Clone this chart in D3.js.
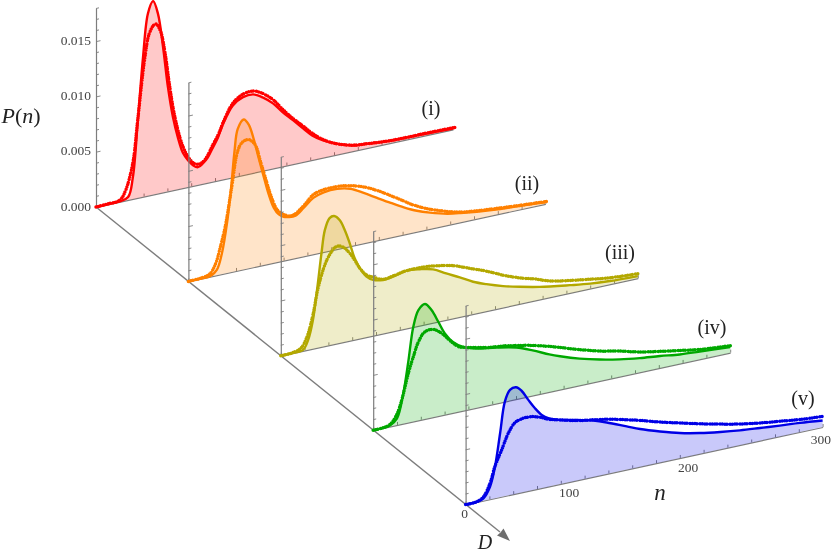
<!DOCTYPE html>
<html><head><meta charset="utf-8">
<script src="https://cdn.jsdelivr.net/npm/d3@7"></script>
<style>html,body{margin:0;padding:0;background:#fff}svg{display:block;filter:blur(0.3px)}text{font-family:"Liberation Serif",serif}</style>
</head><body><svg id="c" width="831" height="557"></svg>
<script>
// P(n) values are in units of 10^-3
const names=["(i)","(ii)","(iii)","(iv)","(v)"];
const colors=["#ff0000","#ff8000","#b3a800","#00a800","#0000e6"];
const labelPos=[[431,110],[527,185],[620,254],[712,329],[803,400]];
const pTicks=[0,5,10,15];
const nTicks=[100,200,300];

const solidN1=[0,10,20,27,31,35,39.5,43.7,48,52,56.3,60.5,64.7,69,73,77.3,81.5,85.7,90,94,98.3,102.5,106.7,115,123.5,132,140,148.7,157,165.5,174,182,190.8,202.5,216,230,244.5,261,278,300];
const solidP1=[0,0.01,0.05,0.27,1.98,6.77,12.6,16.5,17.5,16.3,13.2,9.4,6.6,4.6,3.2,2.43,1.88,1.6,1.86,2.3,3.1,3.9,5.0,6.5,7.05,7.1,6.65,5.9,4.9,4.0,3.05,2.2,1.57,1.0,0.52,0.38,0.22,0.18,0.15,0.08];
const dotN1=[0,10,20,25,31,35,41,45,50,54,58,62,66,72,77,82,86,90,94,98,103,107,115,123,132,140,149,157,165,174,182,190,202,216,230,244,261,278,302];
const dotP1=[0,0.05,0.15,0.95,3.3,7,12.5,14.7,15.4,14.7,12.6,9.4,6.75,4.1,2.8,2.05,1.85,2.0,2.5,3.3,4.2,5.2,6.7,7.3,7.4,7.0,6.2,5.15,4.2,3.25,2.4,1.7,1.0,0.55,0.38,0.25,0.2,0.2,0.15];

const solidN2=[0,10,18.5,24,28.3,32.5,36,38.7,41.4,46.5,50.7,55,59,63.3,67.5,71.7,76,80,84.3,90,97,105,113.7,125,136,147.3,158.5,170,181,192,203,217.5,228.6,262,283,300];
const solidP2=[0,0.01,0.05,0.5,1.95,4.57,7.75,10.8,12.8,13.56,13.0,11.55,9.8,8.0,6.3,5.0,4.28,3.97,3.85,3.85,4.4,5.1,5.4,5.45,5.2,4.56,3.85,3.13,2.47,1.9,1.48,1.04,0.84,0.43,0.3,0.15];
const dotN2=[0,10,18,23,27,31,36,41.4,45,50.5,56,60.5,64.7,69,74.5,80,87,96,105,113.7,130,147.3,161,175,189,203,217.5,228.6,262,302];
const dotP2=[0,0.05,0.25,1.1,2.55,4.27,7.4,10.8,11.5,11.66,11.07,9.46,7.86,6.25,4.76,4.18,3.92,4.5,5.39,5.64,5.6,5.1,4.37,3.45,2.5,1.79,1.25,0.93,0.52,0.2];

const solidN3=[0,10,18.7,23,27,30.8,34.2,37,41,44.8,49.6,53.8,58,62,66.4,72,77.6,86,94.4,105.6,116.8,128,139,150.4,161.6,172.8,186.8,200.8,217.6,243,260,276.5,300];
const solidP3=[0,0.02,0.1,0.9,2.6,5.54,8.5,10.5,11.5,11.6,11.1,10.1,8.8,7.4,6.37,5.48,5.05,4.85,4.95,5.23,5.1,4.83,4.2,3.58,2.92,2.44,1.94,1.55,1.15,0.71,0.45,0.3,0.2];
const dotN3=[0,10,17,22,27,31.3,37,41,45.4,49.6,53.8,58,62,66.4,72,77.6,86,94.4,105.6,116.8,128,144.8,158.8,172.8,186.8,200.8,214.9,226,260,276,302];
const dotP3=[0,0.05,0.3,1.2,3.07,5.38,7.36,8.17,8.73,8.78,8.47,7.92,7.22,6.37,5.63,5.29,4.91,5.02,5.23,5.24,5.13,4.77,4.2,3.62,2.93,2.36,1.91,1.49,0.85,0.6,0.4];

const solidN4=[0,10,14,20,25.3,29.5,33.7,38,43.5,49,54.7,60.2,67,75.5,86.6,103.4,120.2,134,148,157,173.5,190.4,207,224,241,257.6,274.4,300];
const solidP4=[0,0.03,0.1,0.6,2.74,5.5,8.57,9.98,10.4,9.72,8.53,7.35,6.42,5.77,5.36,5.06,4.67,4.09,3.4,3.02,2.42,1.94,1.57,1.29,1.08,0.83,0.7,0.5];
const dotN4=[0,10,15,20,24,29.5,33.7,38,43.5,50.5,57.5,64.5,71.5,78.5,86.6,97.8,109,120,131.5,148,157,173.5,190.4,207,224,241,257.6,274.4,301];
const dotP4=[0,0.05,0.25,1.0,2.17,4.45,5.85,7.1,7.89,7.93,7.42,6.6,5.9,5.65,5.45,5.2,5.07,4.85,4.6,4.12,3.81,3.24,2.71,2.32,1.84,1.5,1.19,0.89,0.63];

const solidN5=[0,10,15,20.5,24.7,29,33,37.3,42.4,47,52.7,58.3,64,69.5,79.3,93.4,107.3,118.6,135.4,146.6,163.4,180,197,214,230.6,247.4,264,281,300];
const solidP5=[0,0.03,0.22,1.14,2.86,5.78,8.54,9.5,9.62,9.2,8.24,7.35,6.62,6.2,5.81,5.48,5.09,4.66,3.91,3.41,2.8,2.27,1.87,1.57,1.33,1.15,0.98,0.83,0.6];
const dotN5=[0,10,15,20.5,24.7,30.3,35.9,41.5,48.5,55.5,62.5,69.5,79.3,93.4,107.3,121,135.4,146.6,163.4,180,197,214,230.6,247.4,264,281,301];
const dotP5=[0,0.05,0.35,1.45,2.9,4.23,5.62,6.44,6.68,6.66,6.44,6.1,5.81,5.42,5.16,4.89,4.51,4.19,3.65,3.18,2.71,2.28,1.9,1.6,1.37,1.13,0.97];

const solidNs=[solidN1,solidN2,solidN3,solidN4,solidN5], solidPs=[solidP1,solidP2,solidP3,solidP4,solidP5];
const dotNs=[dotN1,dotN2,dotN3,dotN4,dotN5], dotPs=[dotP1,dotP2,dotP3,dotP4,dotP5];

const svg=d3.select("#c");
const gray="#7d7d7d";
const ox=d3.scaleLinear([0,4],[96,465.6]), oy=d3.scaleLinear([0,4],[207,504.6]);
const xN=d3.scaleLinear([0,300],[0,357]);
const skew=d3.scaleLinear([0,300],[0,-77.5]);
const yP=d3.scaleLinear([0,18],[0,-199]);
const fmt=v=>(v/1000).toFixed(3);

svg.append("line").attr("x1",ox(0)).attr("y1",oy(0)).attr("x2",500).attr("y2",532).attr("stroke",gray).attr("stroke-width",1.4);
svg.append("path").attr("d","M510,541 L497,535.5 L500.5,532.5 L503.5,528.5 Z").attr("fill","#6e6e6e");

const major=d3.range(0,19,5);
names.forEach((name,i)=>{
  const g=svg.append("g").attr("transform",`translate(${ox(i)},${oy(i)})`);
  const X=d=>xN(d.n), Y=d=>skew(d.n)+yP(d.p);
  const solid=solidNs[i].map((n,k)=>({n,p:solidPs[i][k]}));
  const dots=dotNs[i].map((n,k)=>({n,p:dotPs[i][k]}));
  const pAxis=g.append("g").call(d3.axisRight(yP).tickValues(d3.range(0,19)).tickSizeInner(3).tickSizeOuter(0).tickFormat(""));
  pAxis.select(".domain").attr("stroke",gray).attr("stroke-width",1.2);
  pAxis.selectAll(".tick line").attr("stroke",gray).attr("stroke-width",0.9)
    .attr("x2",d=>major.includes(d)?4.5:3).attr("y2",d=>major.includes(d)?-1:-0.7);
  const nAxis=g.append("g").attr("transform",`matrix(1,${-77.5/357},0,1,0,0)`)
    .call(d3.axisTop(xN).tickValues(d3.range(0,301,20)).tickSizeInner(3).tickSizeOuter(0).tickFormat(""));
  nAxis.select(".domain").attr("stroke",gray).attr("stroke-width",1.2);
  nAxis.selectAll(".tick line").attr("stroke",gray).attr("stroke-width",0.9);
  g.append("path").datum(solid).attr("fill",colors[i]).attr("fill-opacity",0.21)
    .attr("d",d3.area().x(X).y0(d=>skew(d.n)).y1(Y).curve(d3.curveCatmullRom.alpha(0.5)));
  g.append("path").datum(solid).attr("fill","none").attr("stroke",colors[i]).attr("stroke-width",2.4)
    .attr("d",d3.line().x(X).y(Y).curve(d3.curveCatmullRom.alpha(0.5)));
  g.append("path").datum(dots).attr("fill","none").attr("stroke",colors[i]).attr("stroke-width",3.5)
    .attr("stroke-linecap","round").attr("stroke-dasharray","0 2.6 0 2 0 3.1 0 2.3")
    .attr("d",d3.line().x(X).y(Y).curve(d3.curveCatmullRom.alpha(0.5)));
  svg.append("text").attr("x",labelPos[i][0]).attr("y",labelPos[i][1]).attr("text-anchor","middle")
    .attr("dominant-baseline","middle").attr("font-size",20).attr("fill","#222").text(name);
});

const tick=svg.append("g").attr("font-size",13.5).attr("fill","#444");
pTicks.forEach(v=>tick.append("text").attr("x",91).attr("y",oy(0)+yP(v)+0.5).attr("text-anchor","end")
  .attr("dominant-baseline","middle").text(fmt(v)));
nTicks.forEach(v=>{
  const px=ox(4)+xN(v), py=oy(4)+skew(v);
  const t=tick.append("text").attr("dominant-baseline","middle").text(v);
  if(v===300) t.attr("x",831).attr("y",py+13.5).attr("text-anchor","end");
  else t.attr("x",px-15.5).attr("y",py+15.5).attr("text-anchor","middle");
});
tick.append("text").attr("x",464.5).attr("y",515).attr("text-anchor","middle").attr("dominant-baseline","middle").text("0");

const lab=(x,y,size,parts)=>{
  const t=svg.append("text").attr("x",x).attr("y",y).attr("font-size",size).attr("text-anchor","middle")
    .attr("dominant-baseline","middle").attr("fill","#222");
  parts.forEach(([s,it])=>t.append("tspan").attr("font-style",it?"italic":"normal").text(s));
};
lab(21,118,22,[["P",1],["(",0],["n",1],[")",0]]);
lab(660,495,23,[["n",1]]);
lab(485,544,20,[["D",1]]);
</script></body></html>
